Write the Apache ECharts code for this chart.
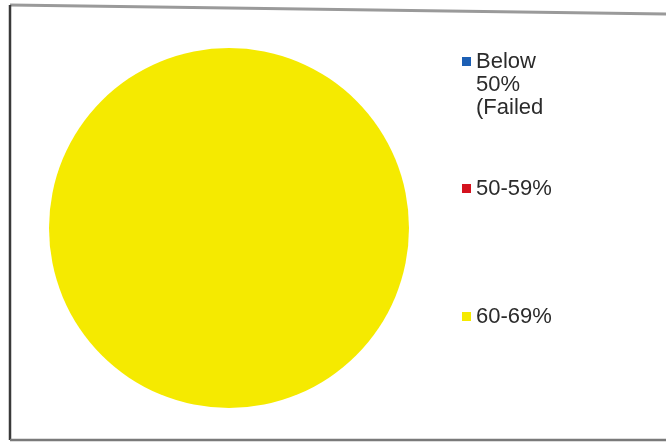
<!DOCTYPE html>
<html>
<head>
<meta charset="utf-8">
<script src="https://cdn.jsdelivr.net/npm/echarts@6/dist/echarts.min.js"></script>
<style>
html,body{margin:0;padding:0;background:#fff;}
#c{width:666px;height:443px;}
</style>
</head>
<body>
<div id="c"></div>
<script>
const categories = ['Below 50% (Failed', '50-59%', '60-69%'];
const values = [0, 0, 100];
const colors = ['#1c5fb4', '#d4121e', '#f5ea00'];

const chart = echarts.init(document.getElementById('c'), null, {renderer: 'canvas'});
const textBase = {fontFamily: 'Liberation Sans, Arial, sans-serif', fontSize: 22, color: '#2b2b2b', lineHeight: 23};

const legends = [
  {name: categories[0], top: 4, fmt: n => '\n\n' + n.split(' ').join('\n')},
  {name: categories[1], top: 177, fmt: n => n},
  {name: categories[2], top: 305, fmt: n => n}
].map(l => ({
  data: [l.name],
  orient: 'vertical',
  left: 462,
  top: l.top,
  padding: 0,
  icon: 'rect',
  itemWidth: 9,
  itemHeight: 9,
  selectedMode: false,
  formatter: l.fmt,
  textStyle: textBase
}));

chart.setOption({
  animation: false,
  backgroundColor: '#ffffff',
  color: colors,
  legend: legends,
  graphic: [
    {type: 'polyline', shape: {points: [[10, 5], [666, 14]]}, style: {stroke: '#9a9a9a', lineWidth: 3, fill: null}},
    {type: 'line', shape: {x1: 10, y1: 5, x2: 10, y2: 440}, style: {stroke: '#3a3a3a', lineWidth: 2.5}},
    {type: 'line', shape: {x1: 10, y1: 440, x2: 666, y2: 440}, style: {stroke: '#7a7a7a', lineWidth: 2.5}}
  ],
  series: [{
    type: 'pie',
    center: [229, 228],
    radius: 180,
    startAngle: 90,
    label: {show: false},
    labelLine: {show: false},
    emphasis: {disabled: true},
    itemStyle: {borderWidth: 0},
    data: categories.map((c, i) => ({name: c, value: values[i]}))
  }]
});
</script>
</body>
</html>
